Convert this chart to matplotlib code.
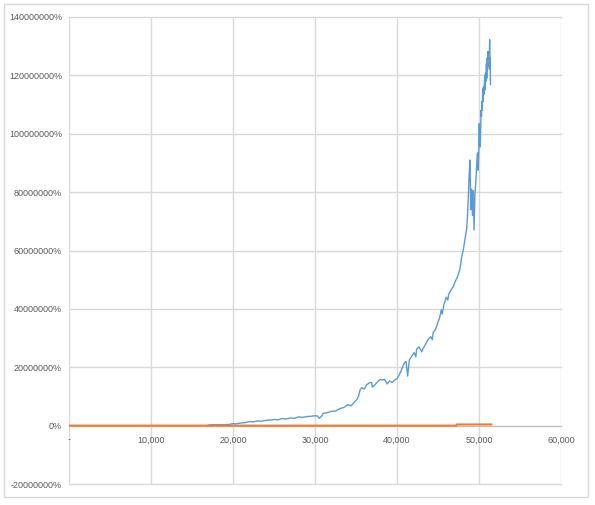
import numpy as np
import matplotlib.pyplot as plt
from matplotlib.patches import Rectangle
from matplotlib.ticker import FuncFormatter

# blue series: x in thousands, y in millions of percent
blue_x = [17.0, 17.5, 18.5, 19.5, 20.0, 20.3, 21.0, 21.6, 22.0, 22.5, 23.0, 23.4, 24.0, 24.5,
          25.0, 25.5, 26.0, 26.5, 27.0, 27.5, 28.0, 28.5, 29.0, 29.5, 30.0, 30.3, 30.5, 30.8,
          31.0, 31.5, 32.0, 32.5, 33.0, 33.5, 34.0, 34.4, 34.8, 35.1, 35.3, 35.5, 35.7, 36.0,
          36.3, 36.6, 36.9, 37.0, 37.3, 37.6, 37.9, 38.2, 38.5, 38.8, 39.1, 39.4, 39.7, 40.0,
          40.3, 40.6, 40.9, 41.1, 41.3, 41.5, 41.8, 42.1, 42.3, 42.4, 42.7, 43.0, 43.2, 43.5,
          43.8, 44.1, 44.3, 44.4, 44.7, 45.0, 45.2, 45.4, 45.5, 45.7, 46.0, 46.2, 46.3, 46.6,
          46.9, 47.1, 47.3, 47.5, 47.7, 47.9, 48.1, 48.3, 48.5, 48.6, 48.7, 48.8, 48.9, 49.0,
          49.1, 49.2, 49.3, 49.4, 49.5, 49.6, 49.7, 49.8, 49.9, 50.0, 50.03, 50.06, 50.1, 50.15,
          50.2, 50.25, 50.3, 50.35, 50.4, 50.45, 50.5, 50.55, 50.6, 50.7, 50.75, 50.8, 50.85,
          50.9, 50.95, 51.0, 51.05, 51.1, 51.15, 51.2, 51.25, 51.3, 51.33, 51.36, 51.4]
blue_y = [0.2, 0.3, 0.3, 0.4, 0.7, 0.6, 0.9, 1.1, 1.4, 1.3, 1.6, 1.5, 1.8, 1.9,
          2.1, 2.0, 2.4, 2.3, 2.6, 2.5, 3.0, 2.8, 3.1, 3.2, 3.4, 3.3, 2.5, 3.2,
          4.2, 4.4, 4.9, 5.0, 5.8, 6.2, 7.2, 6.8, 8.0, 8.9, 10.0, 12.3, 13.0, 12.5,
          14.0, 14.6, 14.8, 13.2, 14.0, 14.9, 15.8, 15.6, 15.9, 14.3, 15.3, 14.8, 15.6, 16.1,
          17.5, 19.5, 21.5, 22.0, 17.0, 22.5, 23.8, 25.0, 23.6, 26.2, 27.0, 25.3, 26.5, 28.0,
          29.5, 30.5, 29.4, 31.8, 33.0, 35.5, 37.0, 39.7, 38.2, 41.2, 44.0, 43.0, 45.0, 46.5,
          47.8, 49.4, 50.5, 52.0, 54.0, 58.0, 60.5, 64.0, 67.5, 72.0, 78.5, 86.0, 91.0, 74.0,
          81.0, 72.0, 80.5, 67.0, 79.0, 83.0, 88.0, 93.5, 87.5, 97.0, 103.5, 96.0, 99.0, 95.5,
          101.0, 108.0, 106.0, 111.0, 108.0, 115.5, 111.0, 116.0, 113.5, 120.0, 115.0, 121.0, 118.0,
          124.0, 119.0, 126.0, 122.0, 128.2, 123.0, 127.0, 124.0, 132.2, 122.0, 126.0, 116.8]

orange_x = [0, 47.2, 47.3, 51.5]
orange_y = [0, 0, 0.4, 0.4]

x_ticks = [0, 10000, 20000, 30000, 40000, 50000, 60000]
y_ticks = [-20e6, 0, 20e6, 40e6, 60e6, 80e6, 100e6, 120e6, 140e6]

plt.rcParams['font.family'] = ['Liberation Sans', 'DejaVu Sans']
fig = plt.figure(figsize=(5.95, 5.05), dpi=100)
fig.patches.append(Rectangle((4 / 595, 8 / 505), 584 / 595, 493 / 505, transform=fig.transFigure,
                             fill=False, edgecolor='#d9d9d9', linewidth=1))
ax = fig.add_axes([69 / 595, 1 - 484 / 505, 492 / 595, 467 / 505])

ax.plot(np.array(blue_x) * 1000, np.array(blue_y) * 1e6, color='#5b9bd5', lw=1.0, zorder=3)
ax.plot(np.array(orange_x) * 1000, np.array(orange_y) * 1e6, color='#ed7d31', lw=1.5, zorder=4)

ax.set_xlim(0, 60000)
ax.set_ylim(-20e6, 140e6)
ax.set_xticks(x_ticks)
ax.set_yticks(y_ticks)
ax.xaxis.set_major_formatter(FuncFormatter(lambda v, p: '-' if v == 0 else f'{int(v):,}'))
ax.yaxis.set_major_formatter(FuncFormatter(lambda v, p: f'{int(v)}%'))
ax.tick_params(length=0, labelsize=6.5, labelcolor='#595959')
ax.tick_params(axis='x', pad=7)
ax.tick_params(axis='y', pad=5)
ax.grid(True, color='#d9d9d9', lw=1)
for gl in ax.get_xgridlines() + ax.get_ygridlines():
    gl.set_clip_on(False)
for s in ['top', 'left', 'right']:
    ax.spines[s].set_visible(False)
ax.spines['bottom'].set_position(('data', 0))
ax.spines['bottom'].set_color('#bfbfbf')
ax.set_axisbelow(True)

fig.savefig('out.png', dpi=100)
